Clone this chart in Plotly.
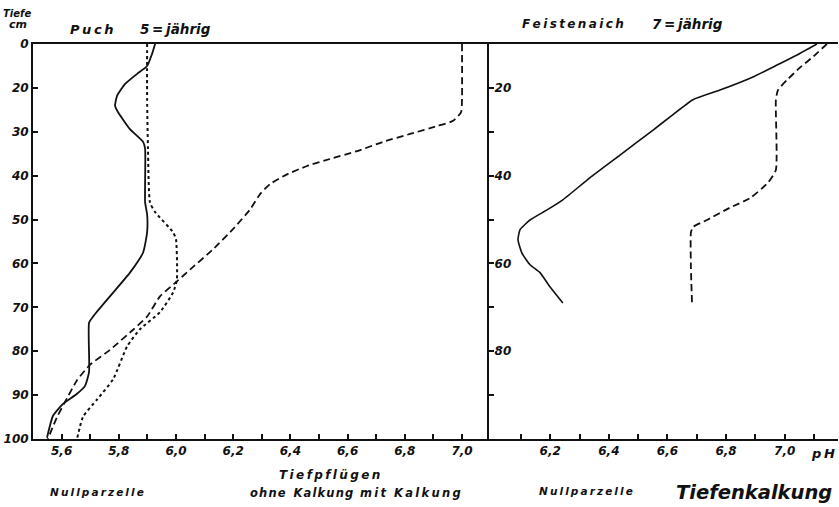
import plotly.graph_objects as go

# ---------------- data (pH vs. depth; depth axis as drawn, top edge = "0") -------------
puch_null_ph = [5.927, 5.916, 5.899, 5.864, 5.822, 5.794, 5.787, 5.797, 5.839, 5.885,
                5.892, 5.892, 5.899, 5.899, 5.885, 5.839, 5.769, 5.710, 5.696, 5.696,
                5.682, 5.654, 5.605, 5.570, 5.549]
puch_null_depth = [10, 12.3, 15.0, 16.8, 19.1, 21.8, 24.1, 25.5, 29.4, 32.3,
                   33.9, 46.1, 48.8, 52.9, 57.5, 62.1, 67.5, 72.1, 73.5, 84.7,
                   87.9, 89.7, 92.0, 94.7, 99.7]

puch_ohne_ph = [5.899, 5.899, 5.902, 5.909, 5.927, 5.990, 6.000, 6.003, 5.990, 5.944,
                5.874, 5.829, 5.780, 5.724, 5.675, 5.654]
puch_ohne_depth = [10, 22.5, 33.9, 46.1, 48.3, 52.9, 54.5, 63.7, 66.6, 71.1,
                   75.0, 78.9, 86.4, 91.0, 94.9, 100]

puch_mit_ph = [7.000, 7.000, 6.997, 6.969, 6.913, 6.818, 6.724, 6.633, 6.538, 6.458,
               6.388, 6.329, 6.294, 6.259, 6.199, 6.129, 6.049, 6.003, 5.944, 5.899,
               5.850, 5.769, 5.699, 5.654, 5.619, 5.584, 5.552]
puch_mit_depth = [10, 22.5, 25.5, 27.5, 28.7, 30.5, 32.3, 34.4, 36.2, 37.8,
                  39.7, 41.9, 44.2, 47.7, 52.2, 56.8, 61.4, 64.1, 67.5, 72.1,
                  75.1, 79.7, 83.1, 86.6, 90.7, 95.0, 100]

feist_null_ph = [7.110, 7.042, 6.974, 6.892, 6.779, 6.687, 6.609, 6.551, 6.438, 6.335,
                 6.243, 6.189, 6.131, 6.097, 6.090, 6.103, 6.131, 6.165, 6.199, 6.243]
feist_null_depth = [10, 12.5, 14.8, 17.5, 20.5, 22.7, 26.6, 29.6, 35.3, 40.5,
                    45.5, 47.8, 50.1, 52.3, 54.6, 57.6, 60.3, 62.1, 65.3, 69.0]

feist_kalk_ph = [7.144, 7.097, 7.052, 7.008, 6.977, 6.970, 6.970, 6.943, 6.882, 6.813,
                 6.735, 6.687, 6.680, 6.680, 6.684]
feist_kalk_depth = [10, 12.9, 15.4, 18.2, 20.5, 22.7, 38.7, 41.6, 45.1, 47.3,
                    50.1, 51.7, 53.0, 60.8, 69.4]

# ---------------- ticks ----------------
left_x_tickvals = [5.6, 5.7, 5.8, 5.9, 6.0, 6.1, 6.2, 6.3, 6.4, 6.5, 6.6, 6.7, 6.8, 6.9, 7.0]
left_x_ticktext = ["5,6", "", "5,8", "", "6,0", "", "6,2", "", "6,4", "", "6,6", "", "6,8", "", "7,0"]
right_x_tickvals = [6.1, 6.2, 6.3, 6.4, 6.5, 6.6, 6.7, 6.8, 6.9, 7.0, 7.1]
right_x_ticktext = ["", "6,2", "", "6,4", "", "6,6", "", "6,8", "", "7,0", ""]
left_y_tickvals = [10, 20, 30, 40, 50, 60, 70, 80, 90, 100]
left_y_ticktext = ["0", "20", "30", "40", "50", "60", "70", "80", "90", "100"]
right_y_tickvals = [20, 30, 40, 50, 60, 70, 80, 90]
right_y_ticktext = ["20", "", "40", "", "60", "", "80", ""]

W, H = 839, 507
# plot area in page pixels: x 33..838, y 44..439
ML, MT = 33, 44
MR = W - 838
MB = H - 439
PW = W - ML - MR
PH = H - MT - MB
SPLIT = (489 - ML) / PW

FONT = "DejaVu Sans"
BLACK = "#111111"
TS = "\u2009"  # thin space for the letter-spaced lettering
HS = "\u200a"  # hair space


def spaced(word, sep=TS):
    return sep.join(list(word)).replace(sep + " " + sep, "  ")


fig = go.Figure()
line_common = dict(color=BLACK, shape="spline", smoothing=0.5)

fig.add_trace(go.Scatter(x=puch_null_ph, y=puch_null_depth, mode="lines",
                         line=dict(width=1.8, dash="solid", **line_common),
                         xaxis="x", yaxis="y", showlegend=False))
fig.add_trace(go.Scatter(x=puch_ohne_ph, y=puch_ohne_depth, mode="lines",
                         line=dict(width=2.0, dash="dot", **line_common),
                         xaxis="x", yaxis="y", showlegend=False))
fig.add_trace(go.Scatter(x=puch_mit_ph, y=puch_mit_depth, mode="lines",
                         line=dict(width=1.8, dash="7px,4px", **line_common),
                         xaxis="x", yaxis="y", showlegend=False))
fig.add_trace(go.Scatter(x=feist_null_ph, y=feist_null_depth, mode="lines",
                         line=dict(width=1.6, dash="solid", **line_common),
                         xaxis="x2", yaxis="y2", showlegend=False))
fig.add_trace(go.Scatter(x=feist_kalk_ph, y=feist_kalk_depth, mode="lines",
                         line=dict(width=1.8, dash="7px,4px", **line_common),
                         xaxis="x2", yaxis="y2", showlegend=False))

tickfont = dict(family=FONT, size=12, color=BLACK, style="italic", weight="bold")
axis_common = dict(showgrid=False, zeroline=False, showline=True, linecolor=BLACK,
                   linewidth=2, ticks="inside", ticklen=5, tickwidth=1.5,
                   tickcolor=BLACK, tickfont=tickfont, tickmode="array",
                   automargin=False)

fig.update_layout(
    width=W, height=H,
    margin=dict(l=ML, r=MR, t=MT, b=MB, autoexpand=False),
    paper_bgcolor="white", plot_bgcolor="white",
    hovermode=False,
    xaxis=dict(domain=[0, SPLIT], range=[5.5, 5.5 + 456 / 286],
               tickvals=left_x_tickvals, ticktext=left_x_ticktext,
               mirror=True, anchor="y", **axis_common),
    yaxis=dict(domain=[0, 1], range=[100, 10],
               tickvals=left_y_tickvals, ticktext=left_y_ticktext,
               anchor="x", **axis_common),
    xaxis2=dict(domain=[SPLIT, 1], range=[5.991, 7.182],
                tickvals=right_x_tickvals, ticktext=right_x_ticktext,
                mirror=True, anchor="y2", **axis_common),
    yaxis2=dict(domain=[0, 1], range=[100, 10],
                tickvals=right_y_tickvals, ticktext=right_y_ticktext,
                anchor="x2", ticklabelposition="inside", **axis_common),
)


def px(x):
    return (x - ML) / PW


def py(y):
    return (H - MB - y) / PH


def label(text, x, y, size=12, xanchor="left"):
    fig.add_annotation(text=text, x=px(x), y=py(y), xref="paper", yref="paper",
                       xanchor=xanchor, yanchor="middle", showarrow=False,
                       font=dict(family=FONT, size=size, color=BLACK,
                                 style="italic", weight="bold"))


label("Tiefe", 17, 13, size=10, xanchor="center")
label("cm", 18, 25, size=11, xanchor="center")
label(spaced("Puch"), 68, 29, size=13)
label("5" + TS + "=" + TS + "jährig", 138, 29, size=13.5)
label(spaced("Feistenaich"), 520, 24, size=12)
label("7" + TS + "=" + TS + "jährig", 650, 24, size=13.5)
label(spaced("Tiefpflügen"), 277, 475, size=12)
label(spaced("ohne Kalkung", HS), 248, 493, size=11.5)
label(spaced("mit Kalkung"), 358, 493, size=11.5)
label(spaced("Nullparzelle"), 48, 492, size=10.5)
label(spaced("Nullparzelle"), 537, 491, size=10.5)
label("Tiefenkalkung", 834, 492, size=19.5, xanchor="right")
label(spaced("pH"), 837, 453, size=13, xanchor="right")

fig.write_html("out.html", config={"displayModeBar": False},
               post_script="document.body.style.margin='0px';")
